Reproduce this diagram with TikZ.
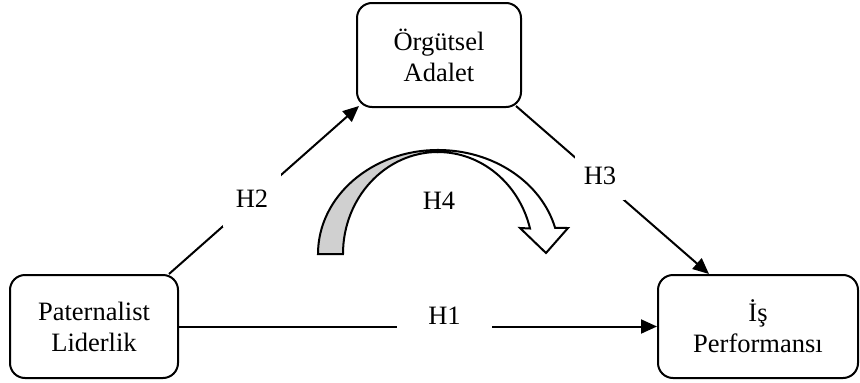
\documentclass[tikz,border=0pt]{standalone}
\usepackage{fontspec}
\setmainfont{Liberation Serif}
\usetikzlibrary{arrows.meta}
\definecolor{ribbongray}{RGB}{208,208,208}
\begin{document}
\begin{tikzpicture}[x=1pt,y=-1pt,
  box/.style={draw=black, line width=2pt, rounded corners=15pt, align=center,
    inner sep=0pt, font=\fontsize{26.5}{31}\selectfont},
  lbl/.style={fill=white, inner sep=0pt, font=\fontsize{26.5}{31}\selectfont},
  conn/.style={line width=2pt},
  arr/.style={conn, -{Triangle[length=16pt,width=14pt]}},
  ribbon/.style={draw=black, line width=2pt, line join=miter}]
\useasboundingbox (0,0) rectangle (860,383);
% boxes
\node[box, minimum width=168pt, minimum height=103pt] (pl) at (94,326.5) {Paternalist\\Liderlik};
\node[box, minimum width=164pt, minimum height=104pt] (oa) at (439,55) {Örgütsel\\Adalet};
\node[box, minimum width=200pt, minimum height=103pt] (ip) at (758,326.5) {İş\\Performansı};
% connectors
\draw[arr] (pl.east) -- (ip.west);
\draw[arr] ([xshift=-10pt]pl.north east) -- ([xshift=3pt,yshift=2pt]oa.south west);
\draw[arr] ([xshift=-6pt,yshift=2pt]oa.south east) -- ([xshift=52pt]ip.north west);
% labels
\node[lbl, minimum width=95pt, minimum height=30pt] (h1) at (444.5,316) {H1};
\node[lbl, minimum width=58pt, minimum height=56pt] (h2) at (252,199) {H2};
\node[lbl, minimum width=50pt, minimum height=48pt] (h3) at (600,176) {H3};
% curved arrow H4
\fill[ribbongray] (318,254) arc[start angle=180, end angle=270, x radius=120, y radius=104]
  -- (438,152) arc[start angle=270, end angle=180, x radius=95, y radius=102] -- cycle;
\draw[ribbon] (318,254) arc[start angle=180, end angle=270, x radius=120, y radius=104]
  -- (438,152) arc[start angle=270, end angle=180, x radius=95, y radius=102] -- cycle;
\draw[ribbon, fill=white] (438,150) arc[start angle=270, end angle=345.5, x radius=121, y radius=104]
  -- (568,228) -- (546,253) -- (520,228) -- (530,228.5)
  arc[start angle=345.5, end angle=270, x radius=95, y radius=102] -- cycle;
\node[lbl, fill=none] (h4) at (439,201) {H4};
\end{tikzpicture}
\end{document}
